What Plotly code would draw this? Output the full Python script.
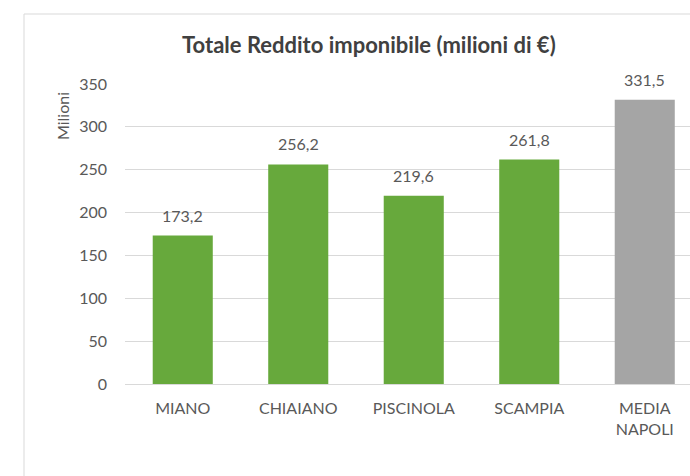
import plotly.graph_objects as go

# Data
categories = ["MIANO", "CHIAIANO", "PISCINOLA", "SCAMPIA", "MEDIA<br>NAPOLI"]
values = [173.2, 256.2, 219.6, 261.8, 331.5]
bar_colors = ["#67A93C", "#67A93C", "#67A93C", "#67A93C", "#A5A5A5"]
y_ticks = [0, 50, 100, 150, 200, 250, 300, 350]
title_text = "Totale Reddito imponibile (milioni di €)"
y_title = "Milioni"

W, H = 690, 476
L, T, B = 125, 84, 92
plot_w = W - L
plot_h = H - T - B
cat_step = 115.5  # pixel spacing between categories

FONT = "Lato, 'Open Sans', sans-serif"
TEXT_GRAY = "#595959"

def px_x(px):
    return (px - L) / plot_w

def px_y(py):
    return (H - B - py) / plot_h

fig = go.Figure(
    go.Bar(
        x=categories,
        y=values,
        marker=dict(color=bar_colors, line=dict(width=0)),
        width=0.52,
        hoverinfo="skip",
    )
)

# value labels above each bar
annotations = []
for c, v in zip(categories, values):
    annotations.append(dict(
        x=c, y=v, xref="x", yref="y",
        text=f"{v:.1f}".replace(".", ","),
        showarrow=False, yanchor="bottom", yshift=9,
        font=dict(family=FONT, size=16, color=TEXT_GRAY),
    ))

# chart title
annotations.append(dict(
    x=px_x(369), y=px_y(44), xref="paper", yref="paper",
    text=f"<b>{title_text}</b>", showarrow=False,
    xanchor="center", yanchor="middle",
    font=dict(family=FONT, size=22, color="#404040"),
))

# vertical axis title
annotations.append(dict(
    x=px_x(62), y=px_y(116), xref="paper", yref="paper",
    text=y_title, showarrow=False, textangle=-90,
    xanchor="center", yanchor="middle",
    font=dict(family=FONT, size=16, color=TEXT_GRAY),
))

# light frame around the chart
shapes = [
    dict(type="line", xref="paper", yref="paper",
         x0=px_x(24), x1=px_x(24), y0=px_y(14), y1=px_y(H + 5),
         line=dict(color="#D9D9D9", width=1)),
    dict(type="line", xref="paper", yref="paper",
         x0=px_x(24), x1=px_x(W + 5), y0=px_y(14), y1=px_y(14),
         line=dict(color="#D9D9D9", width=1)),
]

fig.update_layout(
    width=W, height=H,
    margin=dict(l=L, r=0, t=T, b=B),
    paper_bgcolor="white", plot_bgcolor="white",
    showlegend=False,
    annotations=annotations,
    shapes=shapes,
    xaxis=dict(
        range=[-0.5, -0.5 + plot_w / cat_step],
        showgrid=False, zeroline=False, showline=False,
        ticks="", ticklabelstandoff=13,
        tickfont=dict(family=FONT, size=16, color=TEXT_GRAY),
        fixedrange=True,
    ),
    yaxis=dict(
        range=[0, 350],
        tickvals=y_ticks,
        showgrid=True, gridcolor="#D9D9D9", gridwidth=1,
        zeroline=True, zerolinecolor="#D9D9D9", zerolinewidth=1,
        showline=False, ticks="", ticklabelstandoff=17,
        tickfont=dict(family=FONT, size=16, color=TEXT_GRAY),
        fixedrange=True,
    ),
)

fig.write_html("out.html")
